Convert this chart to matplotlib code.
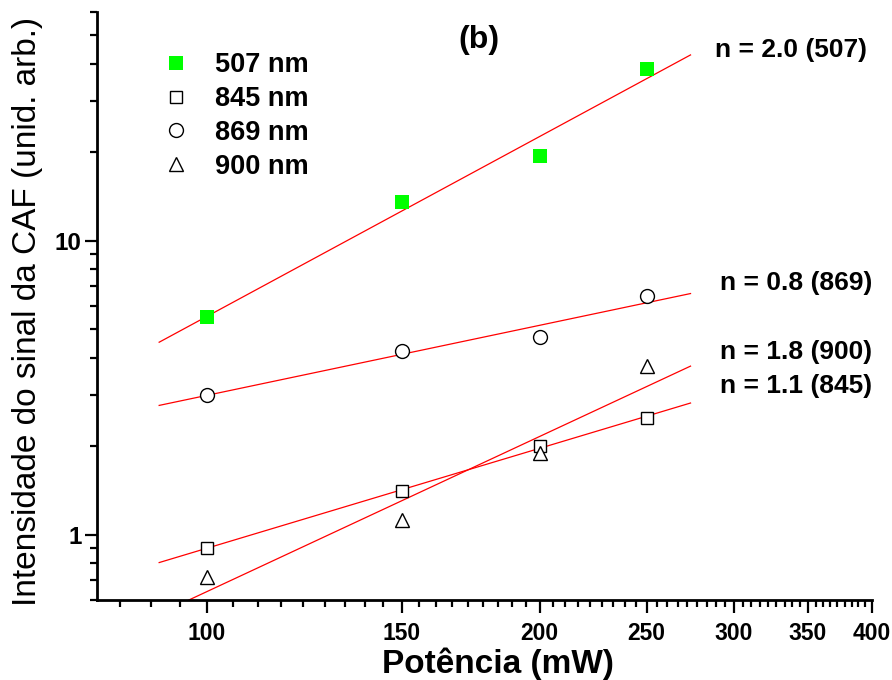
import numpy as np
import matplotlib
matplotlib.use("Agg")
import matplotlib.pyplot as plt
from matplotlib.ticker import FixedLocator, FuncFormatter, LogLocator, NullFormatter

plt.rcParams["font.family"] = ["Liberation Sans", "DejaVu Sans"]

# pump power (mW)
power_mW = [100, 150, 200, 250]

# CAF signal intensity (arb. units) for each wavelength
signal_507 = [5.5, 13.6, 19.5, 38.5]
signal_845 = [0.90, 1.41, 2.01, 2.50]
signal_869 = [3.0, 4.22, 4.72, 6.5]
signal_900 = [0.72, 1.12, 1.90, 3.76]

series_labels = ["507 nm", "845 nm", "869 nm", "900 nm"]
fit_labels = ["n = 2.0 (507)", "n = 1.1 (845)", "n = 0.8 (869)", "n = 1.8 (900)"]

x_major = [100, 150, 200, 250, 300, 350, 400]

fig = plt.figure(figsize=(8.92, 6.8), dpi=100)
ax = fig.add_axes([97 / 892, 1 - 600 / 680, 775 / 892, 588 / 680])
ax.set_xscale("log")
ax.set_yscale("log")
ax.set_xlim(79.5, 400)
ax.set_ylim(0.6, 60)

x = np.array(power_mW, dtype=float)
styles = [
    dict(marker="s", ms=9.6, mfc="#00ff00", mec="#00ff00", mew=0),
    dict(marker="s", ms=8.6, mfc="white", mec="black", mew=1.0),
    dict(marker="o", ms=10, mfc="white", mec="black", mew=1.0),
    dict(marker="^", ms=10.5, mfc="white", mec="black", mew=1.0),
]
all_series = [signal_507, signal_845, signal_869, signal_900]

# power-law fits (straight lines in log-log)
x_fit = np.geomspace(90.5, 274, 50)
handles = []
for ys, st, lab in zip(all_series, styles, series_labels):
    y = np.array(ys)
    slope, inter = np.polyfit(np.log10(x), np.log10(y), 1)
    ax.plot(x_fit, 10 ** (inter + slope * np.log10(x_fit)), color="red", lw=0.9, zorder=2)
    h, = ax.plot(x, y, ls="none", zorder=3, label=lab, **st)
    handles.append(h)

# ticks
ax.xaxis.set_major_locator(FixedLocator(x_major))
minor = []
for a, b in zip([50] + x_major[:-1], x_major):
    minor.extend(np.linspace(a, b, 10)[1:-1])
ax.xaxis.set_minor_locator(FixedLocator(minor))
ax.xaxis.set_major_formatter(FuncFormatter(lambda v, p: "%g" % v))
ax.xaxis.set_minor_formatter(NullFormatter())
ax.yaxis.set_major_locator(LogLocator(base=10))
ax.yaxis.set_minor_locator(LogLocator(base=10, subs=np.arange(2, 10)))
ax.yaxis.set_major_formatter(FuncFormatter(lambda v, p: "%g" % v))
ax.yaxis.set_minor_formatter(NullFormatter())

for s in ["top", "right"]:
    ax.spines[s].set_visible(False)
for s in ["left", "bottom"]:
    ax.spines[s].set_linewidth(2)
ax.tick_params(which="major", length=9, width=1.6, direction="out")
ax.tick_params(which="minor", length=5, width=1.6, direction="out")
ax.tick_params(axis="x", which="major", pad=7, labelsize=16.5)
ax.tick_params(axis="y", which="major", pad=2, labelsize=17.5)
for t in ax.get_xticklabels() + ax.get_yticklabels():
    t.set_fontweight("bold")

ax.set_xlabel("Potência (mW)", fontsize=24, fontweight="bold")
ax.xaxis.set_label_coords(0.517, -0.08)
ax.set_ylabel("Intensidade do sinal da CAF (unid. arb.)", fontsize=24)
ax.yaxis.set_label_coords(-0.07, 0.49)

leg = ax.legend(handles=handles, loc="upper left", bbox_to_anchor=(0.07, 0.95),
                frameon=False, prop=dict(size=19.5, weight="bold"),
                handletextpad=0.95, labelspacing=0.29, handlelength=1.0,
                borderaxespad=0)

fig.text(479 / 892, 1 - 40 / 680, "(b)", fontsize=23, fontweight="bold", ha="center", va="center")
label_pos = {
    "n = 2.0 (507)": (715, 50),
    "n = 1.1 (845)": (720, 386),
    "n = 0.8 (869)": (720, 283),
    "n = 1.8 (900)": (720, 352),
}
for lab in fit_labels:
    px, py = label_pos[lab]
    fig.text(px / 892, 1 - py / 680, lab, fontsize=19, fontweight="bold", ha="left", va="center")

fig.savefig("out.png", dpi=100)
